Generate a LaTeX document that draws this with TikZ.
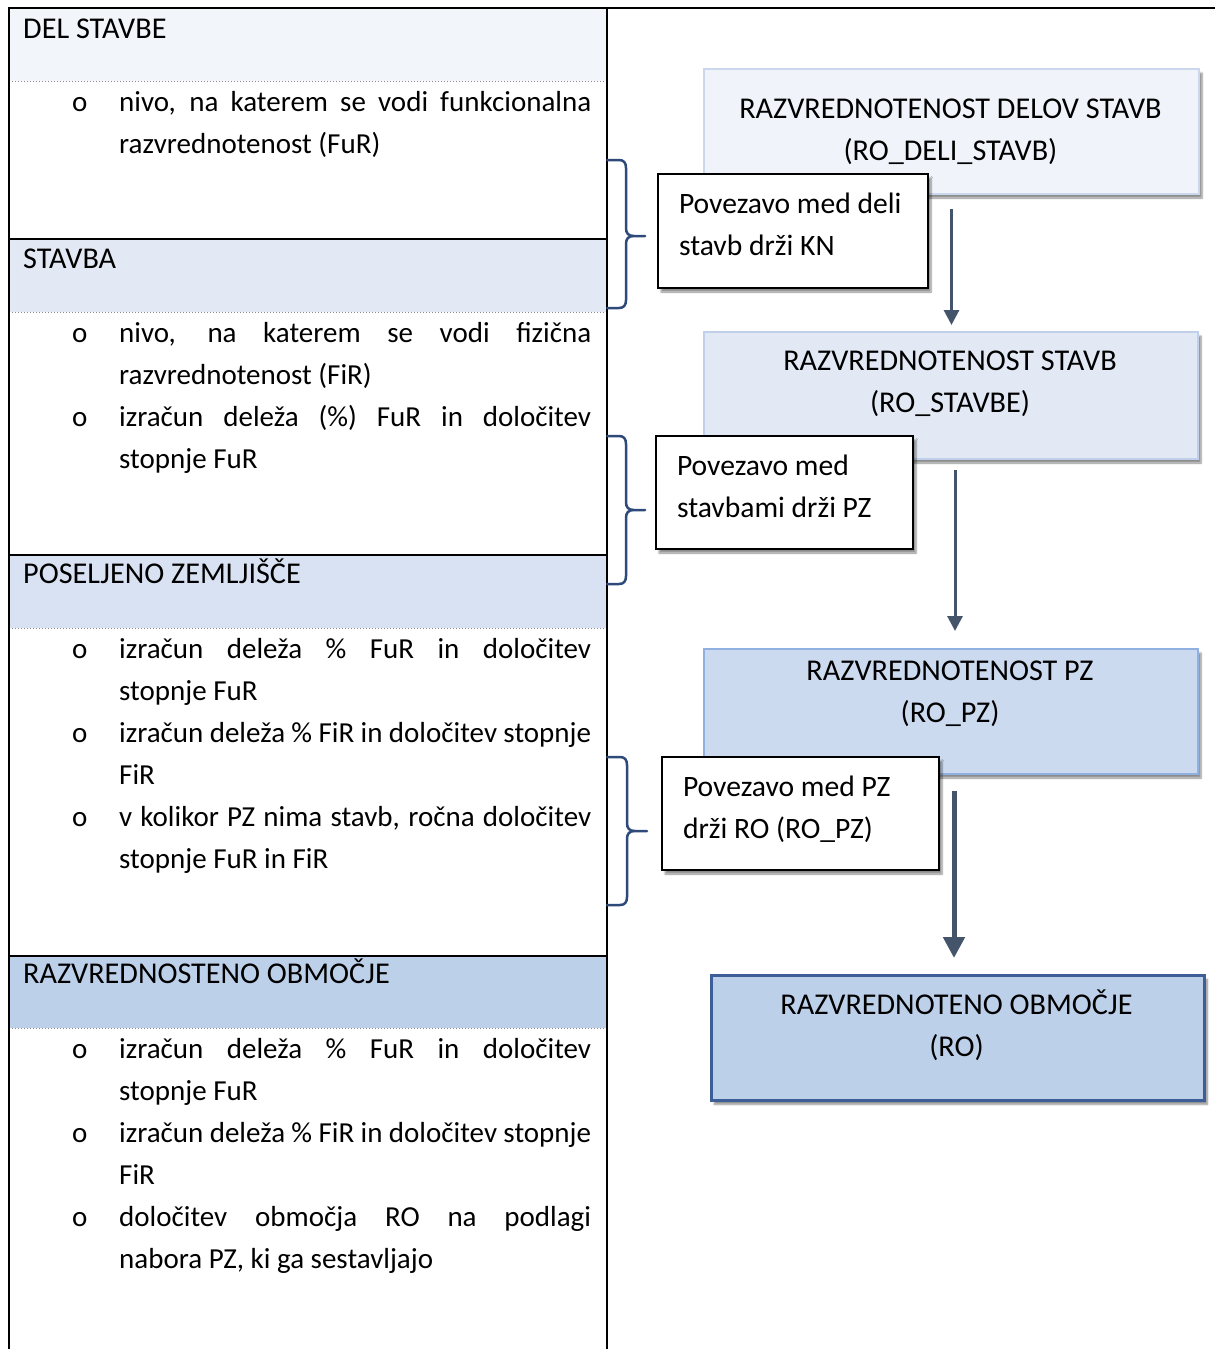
\documentclass[tikz,border=0pt]{standalone}
\usepackage{fontspec}
\setmainfont{Carlito}
\usetikzlibrary{arrows.meta,calc,shadows.blur}

\definecolor{hdrA}{HTML}{F2F5FA}
\definecolor{hdrB}{HTML}{E3E9F4}
\definecolor{hdrC}{HTML}{D9E2F3}
\definecolor{hdrD}{HTML}{BDD0EA}
\definecolor{lvlAfill}{HTML}{F0F4FA}
\definecolor{lvlAline}{HTML}{CAD7EC}
\definecolor{lvlBfill}{HTML}{E2E9F5}
\definecolor{lvlBline}{HTML}{C0D0EA}
\definecolor{lvlCfill}{HTML}{CCDAF0}
\definecolor{lvlCline}{HTML}{8FB0E0}
\definecolor{lvlDfill}{HTML}{BDD0EA}
\definecolor{lvlDline}{HTML}{3E5E98}
\definecolor{bracecol}{HTML}{2E4A7A}
\definecolor{flowcol}{HTML}{44546A}
\definecolor{sepcol}{HTML}{8A8A8A}

% text sizes: running text, capital headings, notes (same 42pt line pitch)
\newcommand\txt{\fontsize{29}{42}\selectfont}
\newcommand\captxt{\fontsize{30.2}{42}\selectfont}
\newcommand\notetxt{\fontsize{29.6}{42}\selectfont}
% one list entry: bullet "o" hanging in front of a justified paragraph
\newcommand\bitem[1]{\noindent\hangindent=47pt\hangafter=1\makebox[47pt][l]{o}\strut #1\par}

\begin{document}
\begin{tikzpicture}[x=1pt,y=-1pt,
  rulecol/.style={draw=black,line width=2pt},
  sepline/.style={draw=sepcol,line width=1pt,dotted},
  hdr/.style={anchor=base west,inner sep=0pt,font=\captxt},
  body/.style={anchor=north west,inner sep=0pt,text width=519pt,align=justify,font=\txt,
    execute at begin node={\tolerance=10000\hbadness=10000\hyphenpenalty=10000}},
  lvl/.style={rectangle,anchor=north west,line width=2pt,inner sep=0pt,
    blur shadow={shadow xshift=3pt,shadow yshift=-4pt,shadow blur steps=6,shadow opacity=45}},
  lvltxt/.style={anchor=north,inner sep=0pt,align=center,font=\captxt},
  callout/.style={rectangle,anchor=north west,draw=black,fill=white,line width=2pt,
    inner xsep=21pt,inner ysep=10pt,font=\notetxt,
    blur shadow={shadow xshift=3pt,shadow yshift=-4pt,shadow blur steps=6,shadow opacity=45}},
  bracepath/.style={draw=bracecol,line width=2.5pt,line join=round,line cap=round},
  flow/.style={draw=flowcol,line width=3pt,-{Triangle[length=15pt,width=15pt]}},
  flowbold/.style={draw=flowcol,line width=5pt,-{Triangle[length=21pt,width=21pt]}}]

\useasboundingbox (0,0) rectangle (1215,1349);

% ---- left table: header bands ----
\fill[hdrA] (9,8) rectangle (607,81);
\fill[hdrB] (9,239) rectangle (607,312);
\fill[hdrC] (9,555) rectangle (607,628);
\fill[hdrD] (9,956) rectangle (607,1028);

\draw[sepline] (9,81) -- (607,81);
\draw[sepline] (9,312) -- (607,312);
\draw[sepline] (9,628) -- (607,628);
\draw[sepline] (9,1028) -- (607,1028);

\draw[rulecol] (9,1349) -- (9,8) -- (1215,8);
\draw[rulecol] (607,8) -- (607,1349);
\draw[rulecol] (9,239) -- (607,239);
\draw[rulecol] (9,555) -- (607,555);
\draw[rulecol] (9,956) -- (607,956);

% ---- headers ----
\node[hdr] (h1) at (23,38) {DEL STAVBE};
\node[hdr] (h2) at (23,268) {STAVBA};
\node[hdr] (h3) at (23,583) {POSELJENO ZEMLJIŠČE};
\node[hdr] (h4) at (23,983) {RAZVREDNOSTENO OBMOČJE};

% ---- section contents ----
\node[body] (t1) at (72,81.6) {%
  \bitem{nivo, na katerem se vodi funkcionalna\linebreak razvrednotenost (FuR)}};
\node[body] (t2) at (72,312.6) {%
  \bitem{nivo, na katerem se vodi fizična\linebreak razvrednotenost (FiR)}%
  \bitem{izračun deleža (\%) FuR in določitev\linebreak stopnje FuR}};
\node[body] (t3) at (72,628.6) {%
  \bitem{izračun deleža \% FuR in določitev\linebreak stopnje FuR}%
  \bitem{izračun deleža \% FiR in določitev stopnje\linebreak FiR}%
  \bitem{v kolikor PZ nima stavb, ročna določitev\linebreak stopnje FuR in FiR}};
\node[body] (t4) at (72,1028.6) {%
  \bitem{izračun deleža \% FuR in določitev\linebreak stopnje FuR}%
  \bitem{izračun deleža \% FiR in določitev stopnje\linebreak FiR}%
  \bitem{določitev območja RO na podlagi\linebreak nabora PZ, ki ga sestavljajo}};

% ---- level boxes on the right ----
\node[lvl,fill=lvlAfill,draw=lvlAline,minimum width=495pt,minimum height=125pt] (L1) at (703,68) {};
\node[lvl,fill=lvlBfill,draw=lvlBline,minimum width=494pt,minimum height=127pt] (L2) at (703,331) {};
\node[lvl,fill=lvlCfill,draw=lvlCline,minimum width=494pt,minimum height=125pt] (L3) at (703,648) {};
\node[lvl,fill=lvlDfill,draw=lvlDline,line width=2.5pt,minimum width=493pt,minimum height=125pt] (L4) at (710,974) {};

\node[lvltxt] (L1t) at (950.5,88.6) {\strut RAZVREDNOTENOST DELOV STAVB\\\strut(RO\_DELI\_STAVB)};
\node[lvltxt] (L2t) at (950,340.6) {\strut RAZVREDNOTENOST STAVB\\\strut(RO\_STAVBE)};
\node[lvltxt] (L3t) at (950,650.6) {\strut RAZVREDNOTENOST PZ\\\strut(RO\_PZ)};
\node[lvltxt] (L4t) at (956.5,984.6) {\strut RAZVREDNOTENO OBMOČJE\\\strut(RO)};

% ---- flow arrows between levels ----
\draw[flow,shorten <=14pt,shorten >=6pt] (L1.south) -- (L1.south |- L2.north);
\draw[flow,shorten <=10pt,shorten >=17pt] ([xshift=4pt]L2.south) -- ([xshift=4pt]L2.south |- L3.north);
\draw[flowbold,shorten <=16pt,shorten >=16pt] ([xshift=3pt]L3.south) -- ([xshift=3pt]L3.south |- L4.north);

% ---- braces linking table rows to the notes ----
\draw[bracepath] (607,160) -- (619,160) .. controls (624,160) and (626,163) .. (626,168)
  -- (626,228) .. controls (626,233) and (628,236) .. (634,236) -- (645,236)
  (634,236) .. controls (628,236) and (626,239) .. (626,244)
  -- (626,300) .. controls (626,305) and (624,308) .. (619,308) -- (607,308);
\draw[bracepath] (607,436) -- (619,436) .. controls (624,436) and (626,439) .. (626,444)
  -- (626,502) .. controls (626,507) and (628,510) .. (634,510) -- (645,510)
  (634,510) .. controls (628,510) and (626,513) .. (626,518)
  -- (626,576) .. controls (626,581) and (624,584) .. (619,584) -- (607,584);
\draw[bracepath] (607,757) -- (620,757) .. controls (625,757) and (627,760) .. (627,765)
  -- (627,823) .. controls (627,828) and (629,831) .. (635,831) -- (647,831)
  (635,831) .. controls (629,831) and (627,834) .. (627,839)
  -- (627,897) .. controls (627,902) and (625,905) .. (620,905) -- (607,905);

% ---- notes ----
\node[callout] (c1) at (657,173) {\parbox[t][94pt][t]{228pt}{\raggedright\strut Povezavo med deli\\\strut stavb drži KN}};
\node[callout] (c2) at (655,435) {\parbox[t][93pt][t]{215pt}{\raggedright\strut Povezavo med\\\strut stavbami drži PZ}};
\node[callout] (c3) at (661,756) {\parbox[t][93pt][t]{235pt}{\raggedright\strut Povezavo med PZ\\\strut drži RO (RO\_PZ)}};

\end{tikzpicture}
\end{document}
